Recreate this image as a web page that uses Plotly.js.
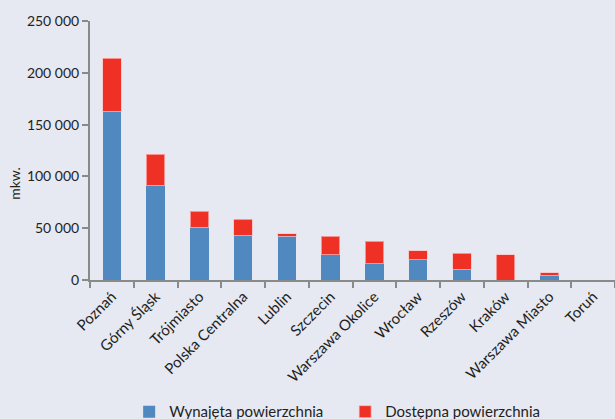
<!DOCTYPE html>
<html><head><meta charset="utf-8">
<script src="https://cdn.plot.ly/plotly-3.0.1.min.js"></script>
<style>html,body{margin:0;padding:0;background:#e6e8f2;}</style>
</head><body><div id="chart" style="width:615px;height:419px;"></div>
<script>
const categories = ["Poznań","Górny Śląsk","Trójmiasto","Polska Centralna","Lublin","Szczecin","Warszawa Okolice","Wrocław","Rzeszów","Kraków","Warszawa Miasto","Toruń"];
const rented = [163000, 91500, 51000, 43000, 42000, 24500, 15500, 19500, 10500, 0, 4500, 0];
const available = [51000, 30000, 15300, 15500, 2500, 17700, 21800, 8800, 15200, 24400, 2300, 0];
const yTicks = [0, 50000, 100000, 150000, 200000, 250000];
const yTitle = "mkw.";

const fam = "Lato, 'Open Sans', sans-serif";
const txt = "#231f20";
const data = [
  {type: "bar", name: "Wynajęta powierzchnia", x: categories, y: rented,
   marker: {color: "#4f89bf", line: {width: 0}}},
  {type: "bar", name: "Dostępna powierzchnia", x: categories, y: available,
   marker: {color: "#ee3124", line: {color: "rgba(255,190,190,0.7)", width: 1}}}
];
const layout = {
  width: 615, height: 419,
  barmode: "stack", bargap: 0.58,
  paper_bgcolor: "#e6e8f2", plot_bgcolor: "#e6e8f2",
  separators: ", ",
  font: {family: fam, size: 14, color: txt},
  margin: {l: 90, r: 0, t: 21, b: 139, autoexpand: false},
  showlegend: true,
  legend: {orientation: "h", xref: "container", x: 0.21, xanchor: "left",
           yref: "container", y: 0.017, yanchor: "middle",
           font: {family: fam, size: 15, color: txt}, traceorder: "normal",
           entrywidth: 171, entrywidthmode: "pixels", itemwidth: 30},
  xaxis: {type: "category", automargin: false, showgrid: false, showline: true, linecolor: "#8a8a8a", linewidth: 2,
          ticks: "outside", tickson: "boundaries", ticklen: 6, tickcolor: "#8a8a8a", tickwidth: 2,
          tickangle: -45, tickfont: {size: 15}, range: [-0.5, 11.5]},
  yaxis: {automargin: false, range: [0, 250000], tickvals: yTicks, tickformat: ",d", showgrid: false, zeroline: false,
          showline: true, linecolor: "#8a8a8a", linewidth: 2, ticks: "outside", ticklen: 6,
          tickcolor: "#8a8a8a", tickwidth: 2, tickfont: {size: 14}},
  annotations: [{text: yTitle, xref: "paper", yref: "paper", x: -0.143, y: 0.375,
                 xanchor: "center", yanchor: "middle", textangle: -90, showarrow: false,
                 font: {family: fam, size: 14, color: txt}}]
};
Plotly.newPlot("chart", data, layout, {displayModeBar: false, staticPlot: true});
</script></body></html>
